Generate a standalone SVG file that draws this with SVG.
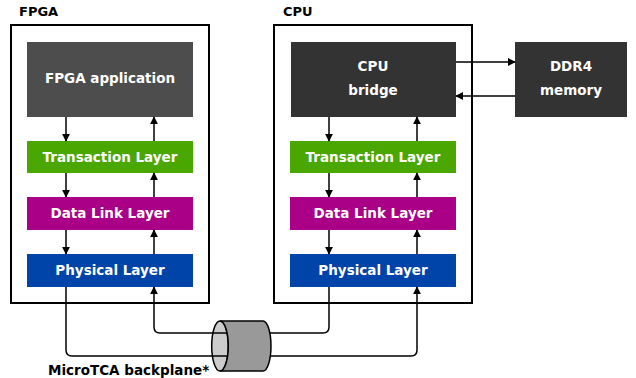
<svg xmlns="http://www.w3.org/2000/svg" width="636" height="378" viewBox="0 0 636 378">
<style>
.t{font-family:"DejaVu Sans",sans-serif;font-weight:bold;font-size:13.5px;}
.w{fill:#ffffff;text-anchor:middle;}
.h{fill:#000000;font-size:13px;}
.frame{fill:none;stroke:#000;stroke-width:2;}
.c{fill:none;stroke:#000;stroke-width:1.5;}
</style>
<defs>
<marker id="ah" viewBox="0 0 10 10" refX="9" refY="5" markerWidth="8" markerHeight="8" markerUnits="userSpaceOnUse" orient="auto">
<path d="M0,0 L10,5 L0,10 Z" fill="#000"/>
</marker>
</defs>
<rect width="636" height="378" fill="#fff"/>

<g id="fpga">
<rect class="frame" x="11" y="25" width="198" height="278"/>
<text class="t h" x="19" y="16">FPGA</text>
</g>
<g id="cpu">
<rect class="frame" x="274" y="25" width="198" height="278"/>
<text class="t h" x="283" y="16">CPU</text>
</g>

<g id="fpga-app"><rect x="27" y="42" width="166" height="75" fill="#4d4d4d"/><text class="t w" x="110" y="83">FPGA application</text></g>
<g id="fpga-tl"><rect x="27" y="141" width="166" height="32" fill="#4aa600"/><text class="t w" x="110" y="161.5">Transaction Layer</text></g>
<g id="fpga-dl"><rect x="27" y="197" width="166" height="33" fill="#aa0088"/><text class="t w" x="110" y="218">Data Link Layer</text></g>
<g id="fpga-pl"><rect x="27" y="254" width="166" height="33" fill="#0044aa"/><text class="t w" x="110" y="275">Physical Layer</text></g>

<g id="cpu-bridge"><rect x="291" y="42" width="165" height="75" fill="#333333"/><text class="t w" x="373" y="71">CPU</text><text class="t w" x="373" y="95">bridge</text></g>
<g id="cpu-tl"><rect x="290" y="141" width="166" height="32" fill="#4aa600"/><text class="t w" x="373" y="161.5">Transaction Layer</text></g>
<g id="cpu-dl"><rect x="290" y="197" width="166" height="33" fill="#aa0088"/><text class="t w" x="373" y="218">Data Link Layer</text></g>
<g id="cpu-pl"><rect x="290" y="254" width="166" height="33" fill="#0044aa"/><text class="t w" x="373" y="275">Physical Layer</text></g>

<g id="ddr4"><rect x="515" y="42" width="112" height="75" fill="#333333"/><text class="t w" x="571" y="71">DDR4</text><text class="t w" x="571" y="95">memory</text></g>

<g id="cable-back">
<ellipse cx="220" cy="346" rx="8.3" ry="25" fill="#cccccc" stroke="#000" stroke-width="1.5"/>
</g>

<g id="connectors">
<line class="c" x1="66" y1="117" x2="66" y2="141" marker-end="url(#ah)"/>
<line class="c" x1="154" y1="141" x2="154" y2="117" marker-end="url(#ah)"/>
<line class="c" x1="66" y1="173" x2="66" y2="197" marker-end="url(#ah)"/>
<line class="c" x1="154" y1="197" x2="154" y2="173" marker-end="url(#ah)"/>
<line class="c" x1="66" y1="230" x2="66" y2="254" marker-end="url(#ah)"/>
<line class="c" x1="154" y1="254" x2="154" y2="230" marker-end="url(#ah)"/>
<line class="c" x1="329" y1="117" x2="329" y2="141" marker-end="url(#ah)"/>
<line class="c" x1="417" y1="141" x2="417" y2="117" marker-end="url(#ah)"/>
<line class="c" x1="329" y1="173" x2="329" y2="197" marker-end="url(#ah)"/>
<line class="c" x1="417" y1="197" x2="417" y2="173" marker-end="url(#ah)"/>
<line class="c" x1="329" y1="230" x2="329" y2="254" marker-end="url(#ah)"/>
<line class="c" x1="417" y1="254" x2="417" y2="230" marker-end="url(#ah)"/>
<line class="c" x1="456" y1="62" x2="515" y2="62" marker-end="url(#ah)"/>
<line class="c" x1="515" y1="96" x2="456" y2="96" marker-end="url(#ah)"/>
<path class="c" d="M66,287 L66,350 Q66,356 72,356 L411,356 Q417,356 417,350 L417,287" marker-end="url(#ah)"/>
<path class="c" d="M329,287 L329,327 Q329,333 323,333 L160,333 Q154,333 154,327 L154,287" marker-end="url(#ah)"/>
</g>

<g id="cable">
<path d="M220,321 L263,321 A8,25 0 0 1 263,371 L220,371 A8.3,25 0 0 0 220,321 Z" fill="#999999" stroke="#000" stroke-width="1.5"/>
<text class="t h" x="48" y="375" style="font-size:13.5px">MicroTCA backplane*</text>
</g>
</svg>
